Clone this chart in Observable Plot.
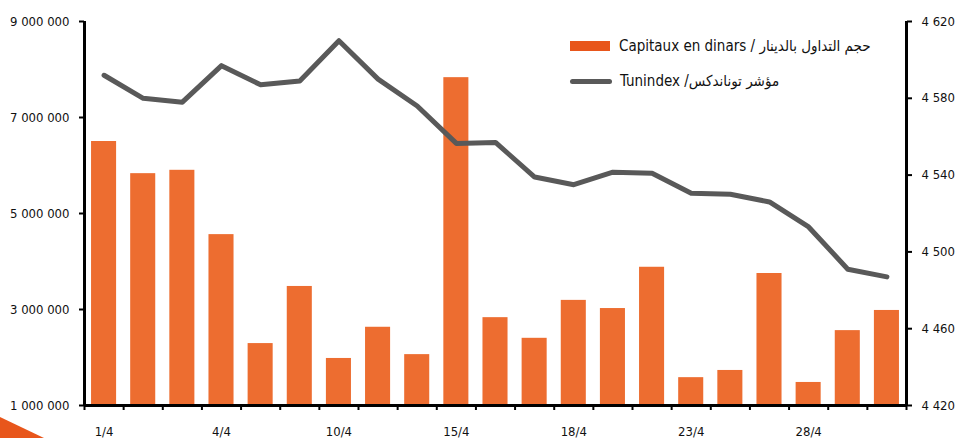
<!DOCTYPE html>
<html>
<head>
<meta charset="utf-8">
<script src="https://cdn.jsdelivr.net/npm/d3@7"></script>
<script src="https://cdn.jsdelivr.net/npm/@observablehq/plot@0.6"></script>
<style>
  html, body { margin: 0; padding: 0; background: #fff; }
  #wrap { position: relative; width: 957px; height: 438px; overflow: hidden; font-family: "DejaVu Sans Condensed", sans-serif; }
  #legend { position: absolute; left: 570px; top: 37px; font-size: 15px; color: #111; line-height: 18px; }
  .row { display: flex; align-items: center; height: 18px; margin-bottom: 17px; white-space: nowrap; }
  .sw-bar { width: 40px; height: 10px; background: #E8561B; margin-right: 9px; }
  .sw-line { width: 42px; height: 5px; border-radius: 3px; background: #595959; margin-right: 8px; }
  #tri { position: absolute; left: 0; top: 0; }
</style>
</head>
<body>
<div id="wrap"></div>
<script>
const dates = ["1/4","2/4","3/4","4/4","7/4","8/4","10/4","11/4","14/4","15/4","16/4","17/4","18/4","21/4","22/4","23/4","24/4","25/4","28/4","29/4","30/4"];
const capitaux = [6500000, 5830000, 5900000, 4560000, 2290000, 3480000, 1980000, 2630000, 2060000, 7830000, 2830000, 2400000, 3190000, 3020000, 3880000, 1580000, 1730000, 3750000, 1480000, 2560000, 2980000];
const tunindex = [4592, 4580, 4578, 4597, 4587, 4589, 4610, 4590, 4576, 4556.5, 4557, 4539, 4535, 4541.5, 4541, 4530.5, 4530, 4526, 4513, 4491, 4487];
const leftTicks = [1000000, 3000000, 5000000, 7000000, 9000000];
const rightTicks = [4420, 4460, 4500, 4540, 4580, 4620];
const labelDates = ["1/4","4/4","10/4","15/4","18/4","23/4","28/4"];
const legendLabels = ["Capitaux en dinars / حجم التداول بالدينار", "Tunindex /مؤشر توناندكس"];

const leftDomain = [1000000, 9000000];
const rightDomain = [4420, 4620];
const toLeft = v => leftDomain[0] + (v - rightDomain[0]) / (rightDomain[1] - rightDomain[0]) * (leftDomain[1] - leftDomain[0]);
const fromLeft = v => rightDomain[0] + (v - leftDomain[0]) / (leftDomain[1] - leftDomain[0]) * (rightDomain[1] - rightDomain[0]);

const data = dates.map((d, i) => ({i, date: d, cap: capitaux[i], idx: tunindex[i], idxL: toLeft(tunindex[i])}));
const fmtSpace = v => d3.format(",")(v).replace(/,/g, "\u00a0");
const half = 0.32;
const font = '"DejaVu Sans Condensed", sans-serif';

const chart = Plot.plot({
  width: 957,
  height: 438,
  marginLeft: 84,
  marginRight: 51,
  marginTop: 21,
  marginBottom: 33,
  style: { fontFamily: font, fontSize: "13px", color: "#111", background: "transparent", overflow: "visible" },
  x: { domain: [-0.5, dates.length - 0.5], label: null },
  y: { domain: leftDomain, label: null },
  marks: [
    Plot.rectY(data, { x1: d => d.i - half, x2: d => d.i + half, y1: () => leftDomain[0], y2: "cap", fill: "#ED6D30" }),
    Plot.line(data, { x: "i", y: "idxL", stroke: "#595959", strokeWidth: 5, strokeLinejoin: "round", strokeLinecap: "round" }),
    Plot.axisY(leftTicks, { anchor: "left", label: null, tickSize: 5, tickPadding: 10, strokeWidth: 2, stroke: "#000", tickFormat: fmtSpace, fontSize: 13 }),
    Plot.axisY(rightTicks.map(toLeft), { anchor: "right", label: null, tickSize: 5, tickPadding: 10, strokeWidth: 2, stroke: "#000", tickFormat: d => fmtSpace(Math.round(fromLeft(d))), fontSize: 13 }),
    Plot.axisX(d3.range(-0.5, dates.length, 1), { label: null, tickSize: 5, strokeWidth: 2, stroke: "#000", tickFormat: () => "" }),
    Plot.axisX(labelDates.map(l => dates.indexOf(l)), { label: null, tickSize: 0, tickPadding: 21, tickFormat: i => dates[i], fontSize: 13 }),
    Plot.ruleX([-0.5], { stroke: "#000", strokeWidth: 3 }),
    Plot.ruleX([dates.length - 0.5], { stroke: "#000", strokeWidth: 3 }),
    Plot.ruleY([leftDomain[0]], { stroke: "#000", strokeWidth: 3 })
  ]
});

const wrap = document.getElementById("wrap");
wrap.appendChild(chart);

const tri = document.createElementNS("http://www.w3.org/2000/svg", "svg");
tri.setAttribute("id", "tri");
tri.setAttribute("width", "957");
tri.setAttribute("height", "438");
tri.innerHTML = '<polygon points="0,417 44,438 0,438" fill="#E8561B"/>';
wrap.appendChild(tri);

const legend = document.createElement("div");
legend.id = "legend";
legend.innerHTML =
  '<div class="row"><div class="sw-bar"></div><span>' + legendLabels[0] + '</span></div>' +
  '<div class="row"><div class="sw-line"></div><span>' + legendLabels[1] + '</span></div>';
wrap.appendChild(legend);
</script>
</body>
</html>
